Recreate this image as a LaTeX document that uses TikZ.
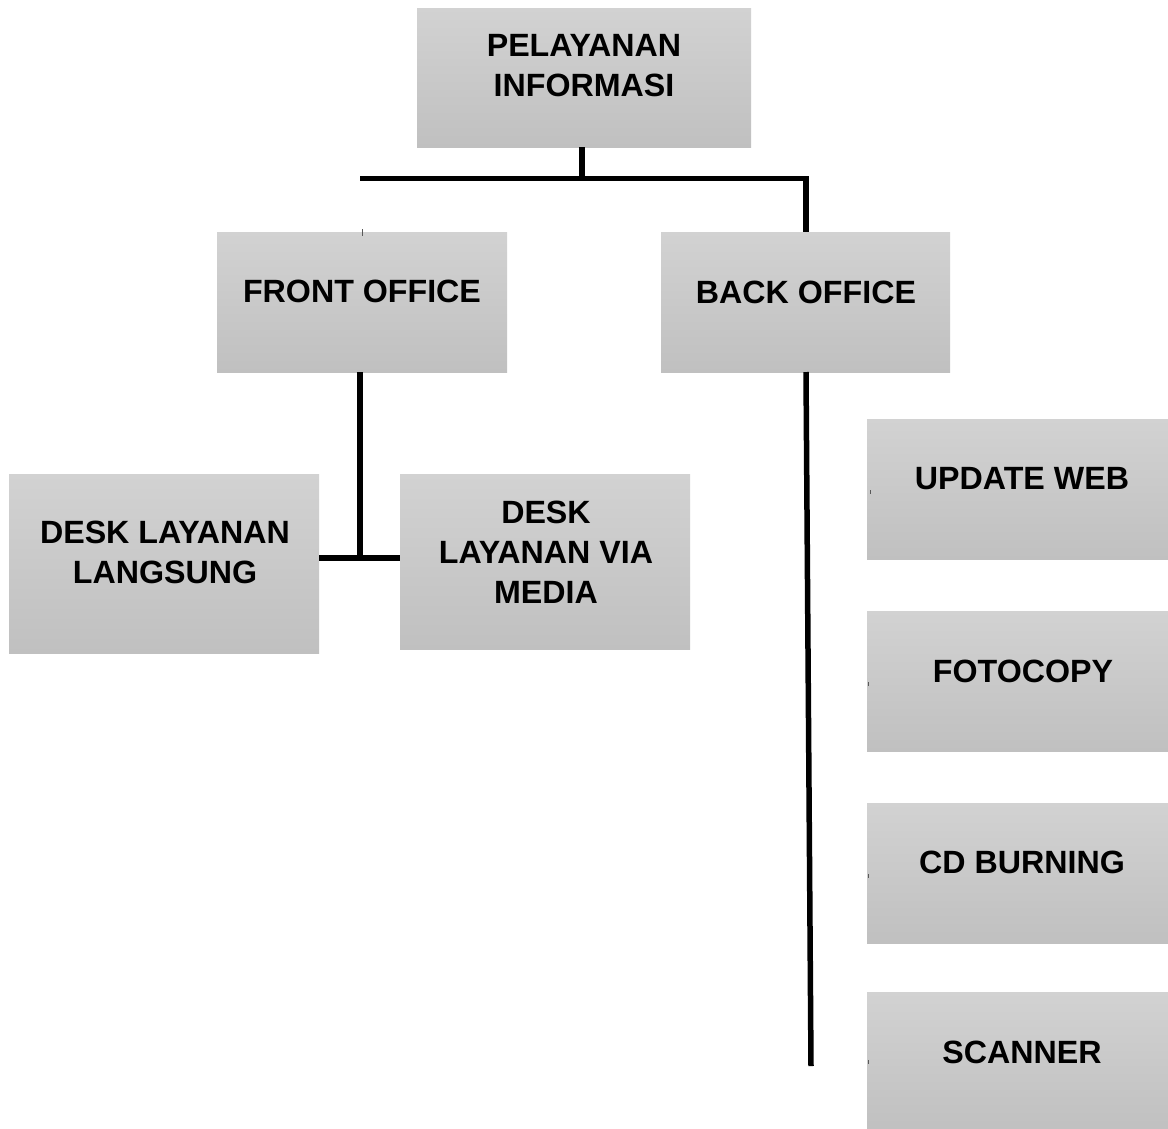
\documentclass[tikz,border=0pt]{standalone}
\usepackage{fontspec}
\setmainfont{Liberation Sans}
\begin{document}
\begin{tikzpicture}[x=1pt,y=-1pt,
  box/.style={draw=none,rectangle,inner sep=0pt,top color={rgb,255:red,210;green,210;blue,210},bottom color={rgb,255:red,192;green,192;blue,192}},
  lbl/.style={align=center,inner sep=0pt,font=\fontsize{32.2}{40}\selectfont\bfseries},
  conn/.style={line width=5.5pt,line cap=butt,line join=miter,black},
  tick/.style={line width=1pt,gray!70!black}]
\useasboundingbox[fill=white] (0,0) rectangle (1168,1128);
% boxes
\node[box,minimum width=334,minimum height=139] (pel) at (584,77.5) {};
\node[box,minimum width=290,minimum height=140] (front) at (362,302) {};
\node[box,minimum width=289,minimum height=140] (back) at (805.5,302) {};
\node[box,minimum width=310,minimum height=179] (lang) at (164,563.5) {};
\node[box,minimum width=290,minimum height=175] (via) at (545,561.5) {};
\node[box,minimum width=310,minimum height=140] (upd) at (1022,489) {};
\node[box,minimum width=310,minimum height=140] (foto) at (1022,681) {};
\node[box,minimum width=310,minimum height=140] (cd) at (1022,873) {};
\node[box,minimum width=310,minimum height=140] (scan) at (1022,1062) {};
% labels
\node[lbl] (tpel) at (584,66) {PELAYANAN\\INFORMASI};
\node[lbl] (tfront) at (362,291) {FRONT OFFICE};
\node[lbl] (tback) at (806,292) {BACK OFFICE};
\node[lbl] (tlang) at (165,552) {DESK LAYANAN\\LANGSUNG};
\node[lbl] (tvia) at (546,552) {DESK\\LAYANAN VIA\\MEDIA};
\node[lbl] (tupd) at (1022,479) {UPDATE WEB};
\node[lbl] (tfoto) at (1023,671) {FOTOCOPY};
\node[lbl] (tcd) at (1022,862) {CD BURNING};
\node[lbl] (tscan) at (1022,1052) {SCANNER};
% connectors
\coordinate (hl) at (360,178.5);
\coordinate (hm) at (582,178.5);
\coordinate (hr) at (806,178.5);
\coordinate (fj) at (360,558);
\coordinate (bend) at (811,1066);
\draw[conn] (582,147) -- (hm);
\draw[conn] (hl) -- (hr) -- (806,232);
\draw[conn] (360,372) -- (fj);
\draw[conn] (lang.east |- fj) -- (via.west |- fj);
\draw[conn] (806,372) -- (bend);
% small marks
\draw[tick] (362,229) -- (362,236);
\draw[tick] (870,490) -- (870,494);
\draw[tick] (868,682) -- (868,686);
\draw[tick] (868,874) -- (868,878);
\draw[tick] (868,1060) -- (868,1064);
\end{tikzpicture}
\end{document}
